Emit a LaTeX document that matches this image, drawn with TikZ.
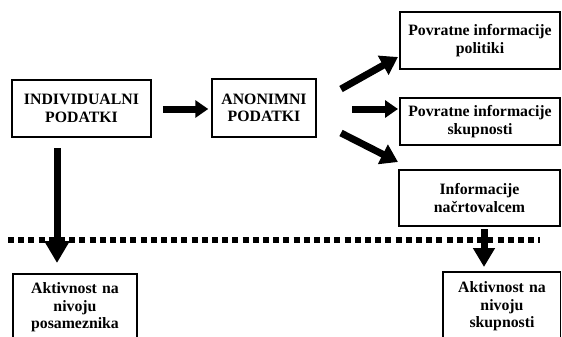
\documentclass[tikz,border=0pt]{standalone}
\usepackage{fontspec}
\setmainfont{Liberation Serif}
\usetikzlibrary{arrows.meta,calc}
\begin{document}
\begin{tikzpicture}[x=1pt,y=-1pt,
  box/.style={draw, line width=1.5pt, inner sep=0pt, align=center,
    font=\fontsize{15.8}{17.5}\selectfont\bfseries},
  lbl/.style={inner sep=0pt, align=center,
    font=\fontsize{15.8}{17.5}\selectfont\bfseries},
  big/.style={line width=7pt, -{Triangle[length=13pt,width=17pt]}},
  diag/.style={line width=7pt, -{Triangle[length=17pt,width=21pt]}},
  down/.style={line width=7pt, -{Triangle[length=22pt,width=24pt]}},
  side/.style={line width=1.5pt}]
\useasboundingbox (0,0) rectangle (562,337);
\node[box, minimum width=139pt, minimum height=57pt] (b1) at (81.5,108.5) {INDIVIDUALNI\\PODATKI};
\node[box, minimum width=104pt, minimum height=58pt] (b2) at (264,108) {ANONIMNI\\PODATKI};
\node[box, minimum width=160pt, minimum height=57pt] (b3) at (480,40.5) {Povratne informacije\\politiki};
\node[box, minimum width=160pt, minimum height=47pt] (b4) at (480,121.5) {Povratne informacije\\skupnosti};
\node[box, minimum width=161pt, minimum height=56pt] (b5) at (479.5,198) {Informacije\\načrtovalcem};
\node[lbl, text width=124pt] (b6) at (75,307.5) {Aktivnost na\\nivoju\\posameznika};
\node[lbl, text width=118pt] (b7) at (502,306.5) {Aktivnost na\\nivoju\\skupnosti};
% open-bottom boxes
\draw[side] (13,340) -- (13,274) -- (137,274) -- (137,340);
\draw[side] (443,340) -- (443,272) -- (560.5,272) -- (560.5,340);
% dotted separator
\coordinate (dl) at (8,240);
\coordinate (dr) at (540,240);
\draw[line width=6pt, dash pattern=on 6pt off 4.2pt] (dl) -- (dr);
% arrows
\draw[big, shorten <=11pt, shorten >=3pt] (b1.east |- 0,109) -- (b2.west |- 0,109);
\coordinate (u1) at (341,89);
\coordinate (u2) at (398,57);
\coordinate (m1) at (352,109);
\coordinate (m2) at (398,109);
\coordinate (l1) at (341,133);
\coordinate (l2) at (398,162);
\draw[diag] (u1) -- (u2);
\draw[big] (m1) -- (m2);
\draw[diag] (l1) -- (l2);
\coordinate (v1) at (57,148);
\coordinate (v2) at (57,263);
\draw[down] (v1) -- (v2);
\coordinate (w1) at (484,229);
\coordinate (w2) at (484,267);
\draw[line width=7pt, -{Triangle[length=19pt,width=21pt]}] (w1) -- (w2);
\end{tikzpicture}
\end{document}
